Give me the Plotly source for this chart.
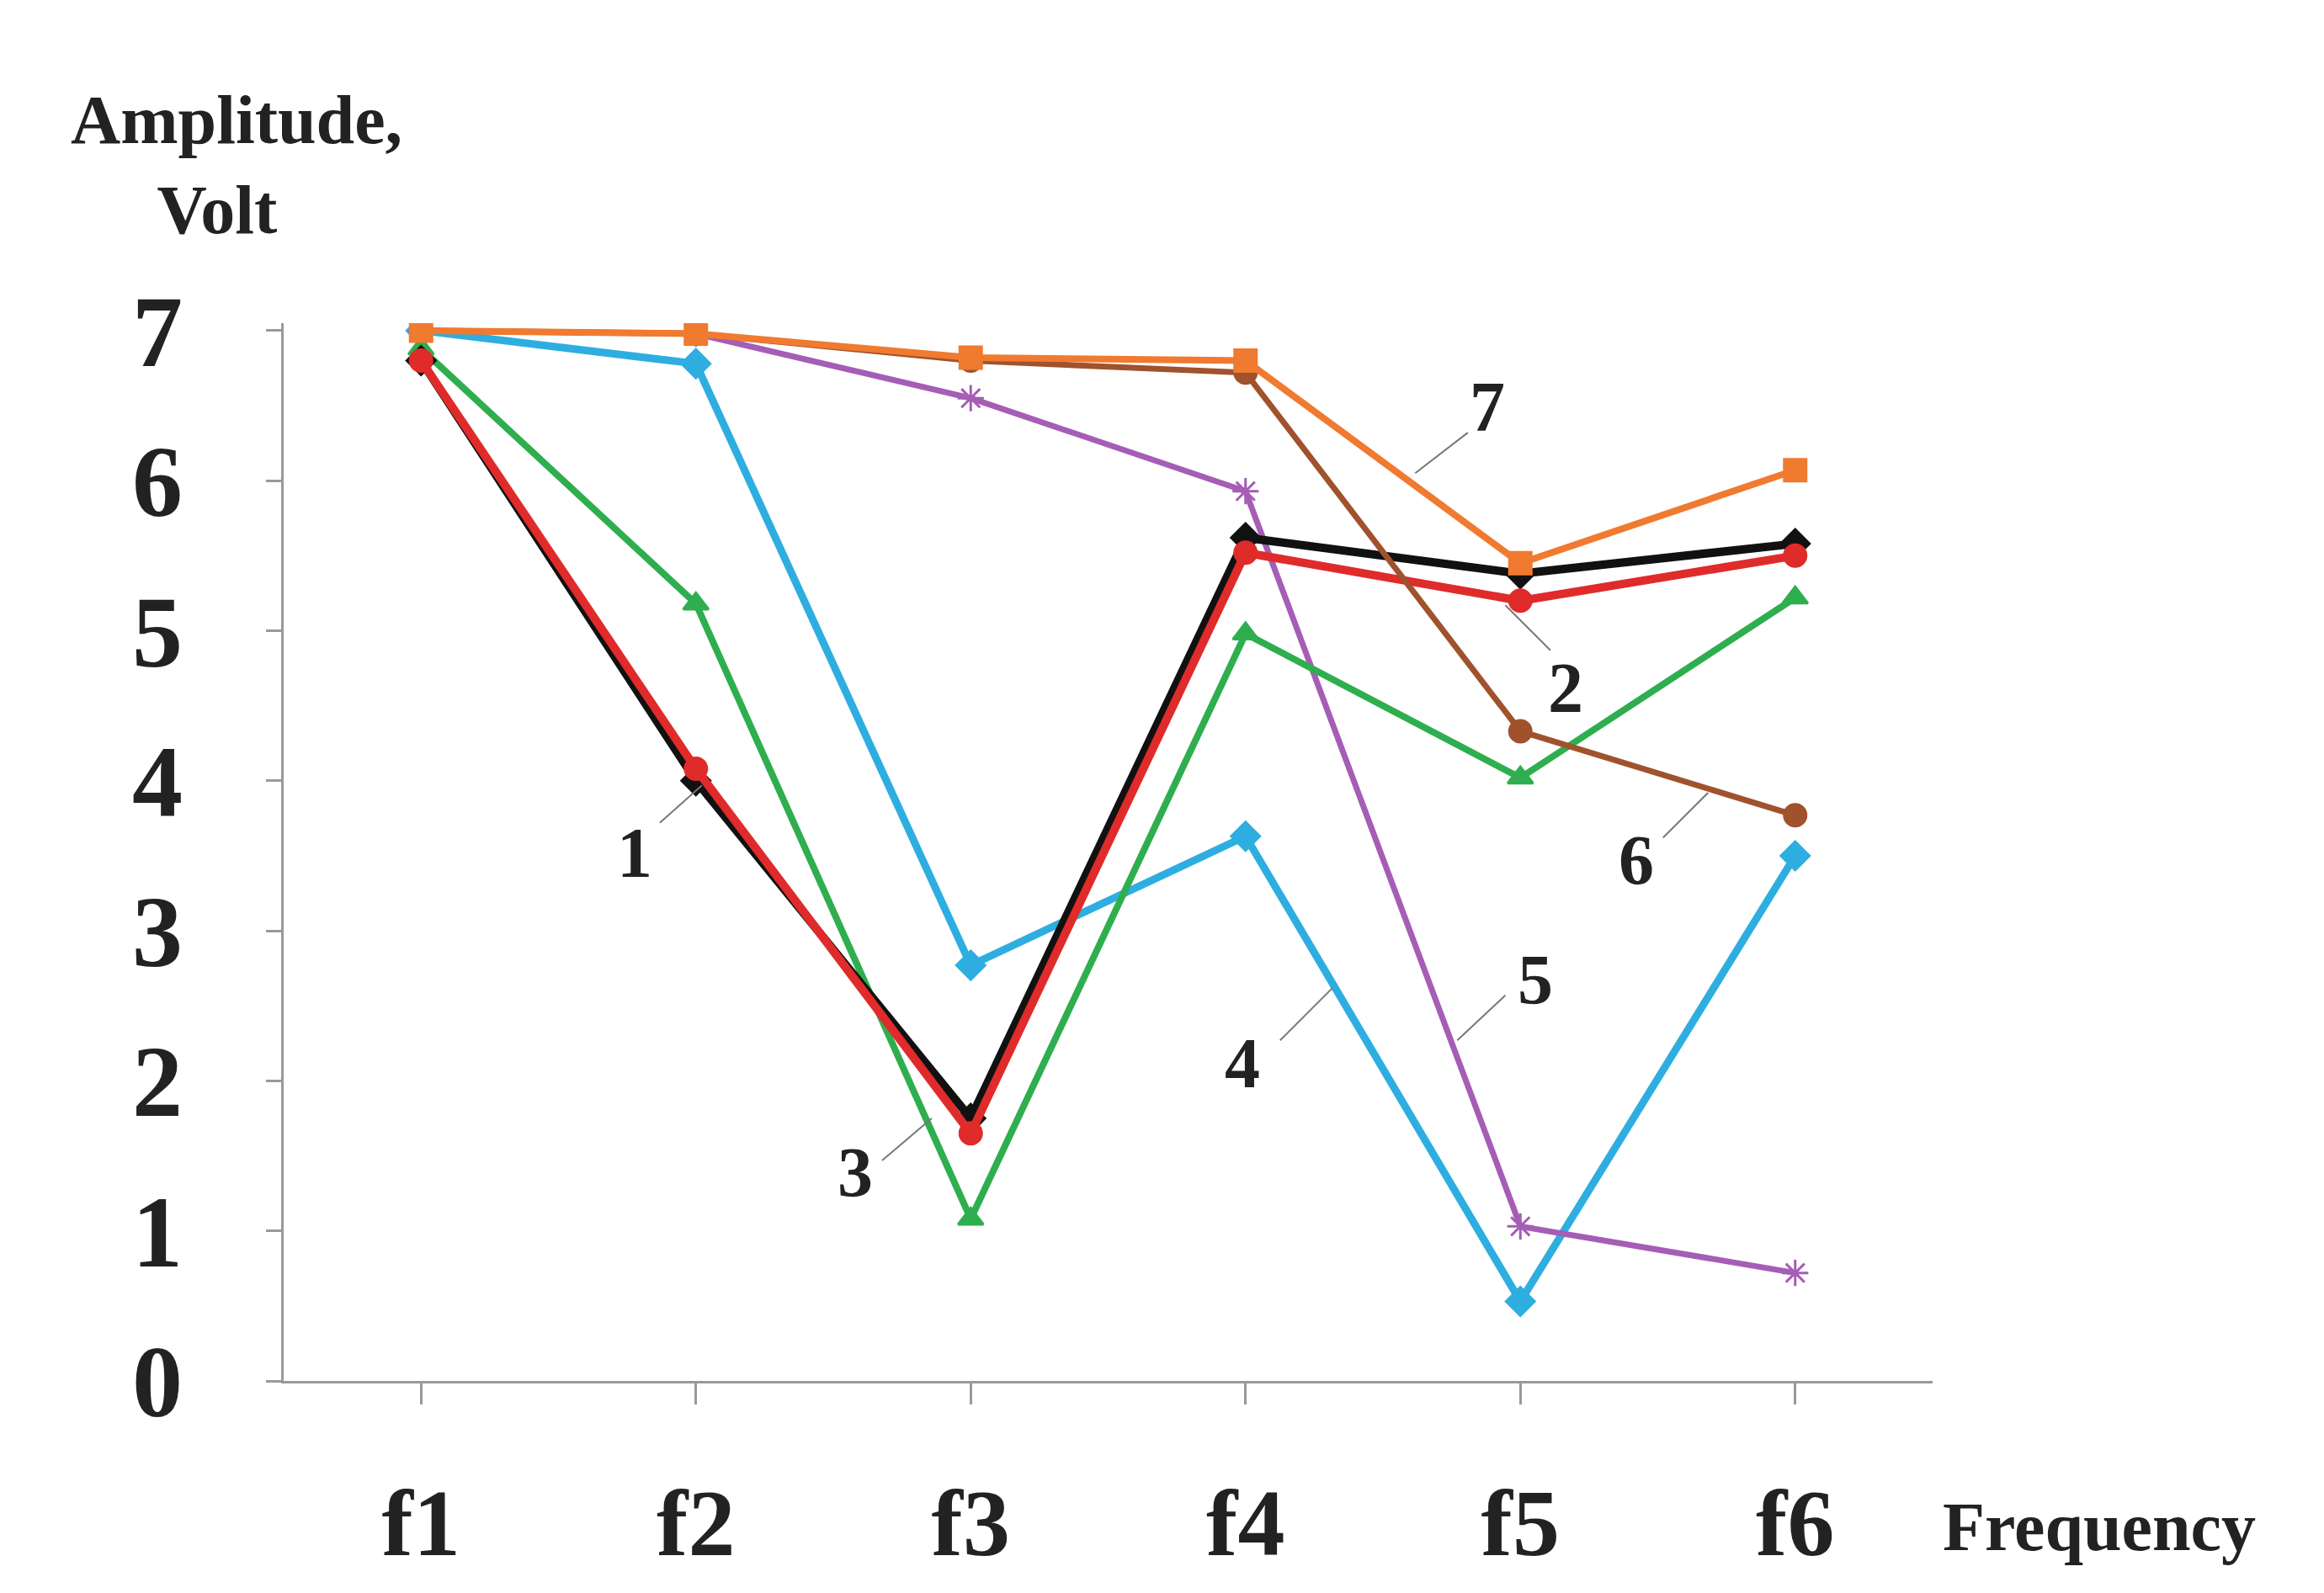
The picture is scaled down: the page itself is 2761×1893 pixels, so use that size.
import plotly.graph_objects as go

freq = [1, 2, 3, 4, 5, 6]
freq_labels = ["f1", "f2", "f3", "f4", "f5", "f6"]

black = [6.80, 4.00, 1.75, 5.62, 5.38, 5.58]
red = [6.80, 4.08, 1.65, 5.52, 5.20, 5.50]
green = [6.88, 5.18, 1.08, 4.98, 4.02, 5.22]
blue = [7.00, 6.78, 2.77, 3.63, 0.53, 3.50]
purple = [7.00, 6.98, 6.55, 5.93, 1.03, 0.72]
brown = [7.00, 6.98, 6.80, 6.72, 4.33, 3.77]
orange = [7.00, 6.98, 6.82, 6.80, 5.45, 6.07]

series = [
    (blue, "#2eaee0", "diamond", 9),
    (purple, "#a55db5", "asterisk-open", 7),
    (green, "#2fae4f", "triangle-up", 8),
    (black, "#111111", "diamond", 10),
    (red, "#e02b2b", "circle", 10),
    (brown, "#a0522d", "circle", 7),
    (orange, "#f07a30", "square", 8),
]

font = "Liberation Serif"
fig = go.Figure()
for vals, col, sym, w in series:
    fig.add_trace(go.Scatter(
        x=freq, y=vals, mode="lines+markers",
        line=dict(color=col, width=w),
        marker=dict(symbol=sym, size=26, color=col, line=dict(color=col, width=3)),
        showlegend=False))


def px2x(p):
    return 1 + (p - 278) / 183


def px2y(p):
    return (917 - p) / 100


# curve labels: (text, label px, label py, line x0, y0, x1, y1) in reference pixel coords
labels = [
    ("1", 420, 565, 437, 545, 465, 520),
    ("2", 1040, 455, 1000, 400, 1030, 430),
    ("3", 567, 778, 585, 770, 618, 742),
    ("4", 825, 705, 850, 690, 885, 655),
    ("5", 1020, 650, 968, 690, 1000, 660),
    ("6", 1087, 570, 1105, 555, 1135, 525),
    ("7", 988, 268, 940, 312, 975, 285),
]
for t, lx, ly, x0, y0, x1, y1 in labels:
    fig.add_annotation(x=px2x(lx), y=px2y(ly), text="<b>%s</b>" % t, showarrow=False,
                       font=dict(family=font, size=84, color="#222"))
    fig.add_shape(type="line", x0=px2x(x0), y0=px2y(y0), x1=px2x(x1), y1=px2y(y1),
                  line=dict(color="#777", width=2))

fig.add_annotation(xref="paper", yref="paper", x=-0.13, y=1.23, xanchor="left", yanchor="top",
                   text="<b>Amplitude,</b><br>     <b>Volt</b>", showarrow=False, align="left",
                   font=dict(family=font, size=82, color="#222"))
fig.add_annotation(xref="paper", yref="paper", x=1.005, y=-0.1, xanchor="left", yanchor="top",
                   text="<b>Frequency</b>", showarrow=False,
                   font=dict(family=font, size=82, color="#222"))

fig.update_xaxes(range=[0.5, 6.5], tickvals=freq, ticktext=["<b>%s</b>" % s for s in freq_labels],
                 tickfont=dict(family=font, size=112, color="#222"), showgrid=False, zeroline=False,
                 showline=True, linecolor="#999", linewidth=3, ticks="outside", ticklen=25,
                 tickcolor="#999", tickwidth=3, ticklabelstandoff=45)
fig.update_yaxes(range=[0, 7.05], tickvals=list(range(8)),
                 ticktext=["<b>%d</b>" % i for i in range(8)],
                 tickfont=dict(family=font, size=120, color="#222"), showgrid=False, zeroline=False,
                 showline=True, linecolor="#999", linewidth=3, ticks="outside", ticklen=18,
                 tickcolor="#999", tickwidth=3, ticklabelstandoff=75)
fig.update_layout(width=2761, height=1893, plot_bgcolor="white", paper_bgcolor="white",
                  margin=dict(l=329, r=473, t=376, b=260))
fig.write_html("out.html")
